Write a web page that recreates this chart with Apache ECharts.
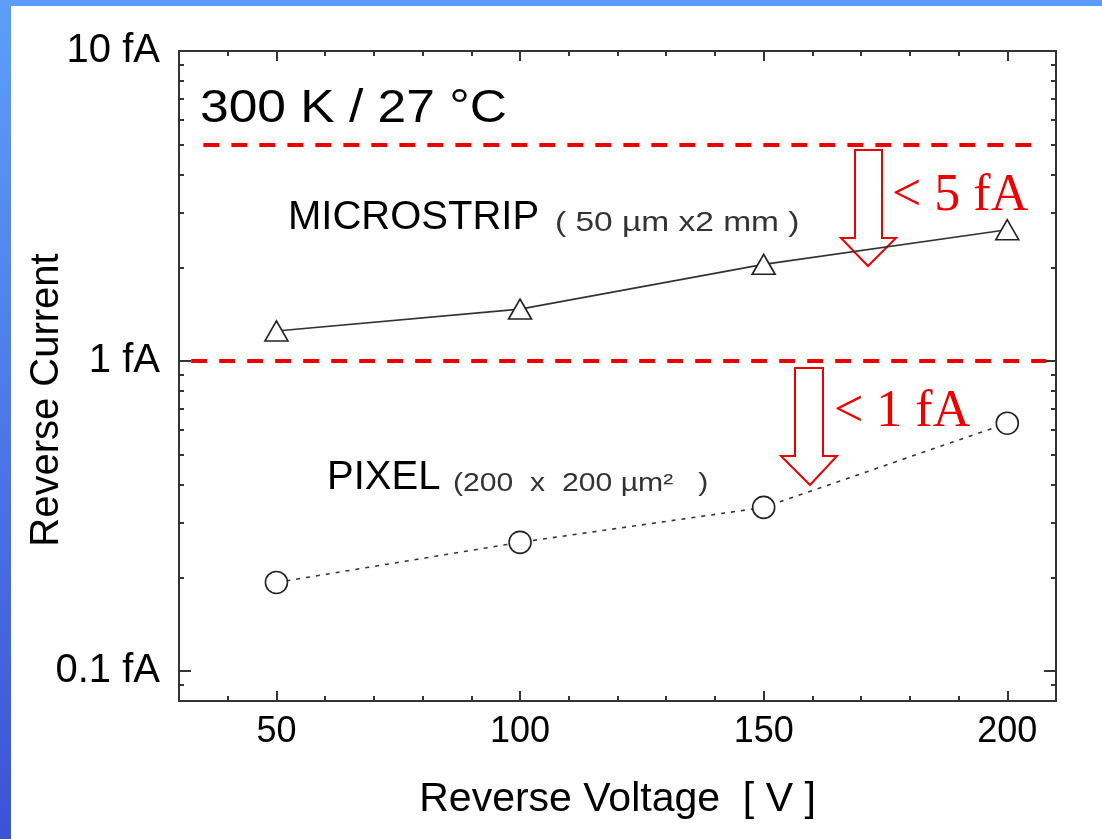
<!DOCTYPE html>
<html>
<head>
<meta charset="utf-8">
<title>Reverse Current vs Reverse Voltage</title>
<script src="https://cdn.jsdelivr.net/npm/echarts@6/dist/echarts.min.js"></script>
<style>
  html, body { margin: 0; padding: 0; background: #fff; }
  #chart { width: 1102px; height: 839px; }
</style>
</head>
<body>
<div id="chart"></div>
<script>
// Measured reverse current (fA) at each bias voltage (V)
const voltage = [50, 100, 150, 200];
const microstrip = [1.25, 1.47, 2.05, 2.65];
const pixel = [0.193, 0.26, 0.337, 0.63];

// Specification limits (fA) drawn as red dashed lines
const limits = [5, 1];

// Axis ticks
const xMajorTicks = [50, 100, 150, 200];
const yMajorTicks = [0.1, 1, 10];
const yMajorLabels = ['0.1 fA', '1 fA', '10 fA'];
const yMinorTicks = [0.09, 0.2, 0.3, 0.4, 0.5, 0.6, 0.7, 0.8, 0.9, 2, 3, 4, 5, 6, 7, 8, 9];

const SANS = '"Liberation Sans", Arial, Helvetica, sans-serif';
const SERIF = '"Liberation Serif", "Times New Roman", serif';
const INK = '#333';
const RED = '#ee0000';

const pairs = (xs, ys) => xs.map((x, i) => [x, ys[i]]);

function xAxis(position, major, withLabels) {
  const ax = {
    type: 'value', position: position, min: 30, max: 210,
    axisLine: { show: true, onZero: false, lineStyle: { color: INK, width: 2 } },
    splitLine: { show: false },
    axisTick: { show: true, inside: true, length: major ? 10 : 5, lineStyle: { color: INK, width: 2 } },
    axisLabel: { show: false }
  };
  if (major) {
    ax.axisTick.customValues = xMajorTicks;
    if (withLabels) {
      ax.axisLabel = {
        show: true, customValues: xMajorTicks, margin: 13,
        fontFamily: SANS, fontSize: 36, color: '#000'
      };
      ax.name = 'Reverse Voltage  [ V ]';
      ax.nameLocation = 'middle';
      ax.nameGap = 78;
      ax.nameMoveOverlap = false;
      ax.nameTextStyle = { fontFamily: SANS, fontSize: 41, color: '#000' };
    }
  } else {
    ax.interval = 10;
  }
  return ax;
}

function yAxis(position, major, withLabels) {
  const ax = {
    type: 'log', logBase: 10, position: position, min: 0.08, max: 10,
    axisLine: { show: true, onZero: false, lineStyle: { color: INK, width: 2 } },
    splitLine: { show: false },
    minorTick: { show: false },
    axisTick: {
      show: true, inside: true, length: major ? 12 : 5,
      customValues: major ? yMajorTicks : yMinorTicks,
      lineStyle: { color: INK, width: 2 }
    },
    axisLabel: { show: false }
  };
  if (withLabels) {
    ax.axisLabel = {
      show: true, customValues: yMajorTicks, margin: 19,
      fontFamily: SANS, fontSize: 40, color: '#000',
      formatter: v => yMajorLabels[yMajorTicks.findIndex(t => Math.abs(t - v) < 1e-9)]
    };
    ax.name = 'Reverse Current';
    ax.nameLocation = 'middle';
    ax.nameRotate = 90;
    ax.nameGap = 112;
    ax.nameMoveOverlap = false;
    ax.nameTextStyle = { fontFamily: SANS, fontSize: 40, color: '#000', padding: [0, 48, 0, 0] };
  }
  return ax;
}

const chart = echarts.init(document.getElementById('chart'), null, { renderer: 'canvas' });

const option = {
  animation: false,
  backgroundColor: '#ffffff',
  grid: { left: 179, top: 51, width: 877, height: 650, containLabel: false, outerBoundsMode: 'none' },
  xAxis: [
    xAxis('bottom', true, true),
    xAxis('bottom', false, false),
    xAxis('top', true, false),
    xAxis('top', false, false)
  ],
  yAxis: [
    yAxis('left', true, true),
    yAxis('left', false, false),
    yAxis('right', true, false),
    yAxis('right', false, false)
  ],
  series: [
    {
      name: 'MICROSTRIP',
      type: 'line',
      xAxisIndex: 0, yAxisIndex: 0,
      data: pairs(voltage, microstrip),
      symbol: 'triangle',
      symbolSize: [23, 20],
      itemStyle: { color: '#fff', borderColor: '#222', borderWidth: 1.6 },
      lineStyle: { color: INK, width: 1.6 },
      emphasis: { disabled: true },
      silent: true,
      z: 3,
      markLine: {
        silent: true,
        symbol: 'none',
        label: { show: false },
        lineStyle: { color: RED, width: 4, type: [16, 12] },
        data: [
          [{ coord: [35, limits[0]] }, { coord: [206, limits[0]] }],
          [{ coord: [32.5, limits[1]] }, { coord: [208, limits[1]] }]
        ]
      }
    },
    {
      name: 'PIXEL',
      type: 'line',
      xAxisIndex: 0, yAxisIndex: 0,
      data: pairs(voltage, pixel),
      symbol: 'circle',
      symbolSize: 22,
      itemStyle: { color: '#fff', borderColor: '#222', borderWidth: 1.6 },
      lineStyle: { color: INK, width: 1.6, type: [4, 6] },
      emphasis: { disabled: true },
      silent: true,
      z: 3
    }
  ],
  graphic: [
    // blue slide frame
    { type: 'rect', silent: true, shape: { x: 0, y: 0, width: 1102, height: 6 }, style: { fill: '#5C9CF8' } },
    {
      type: 'rect', silent: true, shape: { x: 0, y: 0, width: 11, height: 839 },
      style: {
        fill: {
          type: 'linear', x: 0, y: 0, x2: 0, y2: 1,
          colorStops: [{ offset: 0, color: '#5D9EFA' }, { offset: 1, color: '#3C52D7' }]
        }
      }
    },
    // temperature note
    {
      type: 'text', silent: true, x: 200, y: 109, scaleX: 1.12,
      style: { text: '300 K / 27 °C', font: '46px ' + SANS, fill: '#000', verticalAlign: 'middle', align: 'left' }
    },
    // series captions
    {
      type: 'text', silent: true, x: 288, y: 218,
      style: { text: 'MICROSTRIP', font: '40px ' + SANS, fill: '#000', verticalAlign: 'middle', align: 'left' }
    },
    {
      type: 'text', silent: true, x: 555, y: 224, scaleX: 1.24,
      style: { text: '( 50 µm x2 mm )', font: '27px ' + SANS, fill: '#333', verticalAlign: 'middle', align: 'left' }
    },
    {
      type: 'text', silent: true, x: 327, y: 478,
      style: { text: 'PIXEL', font: '40px ' + SANS, fill: '#000', verticalAlign: 'middle', align: 'left' }
    },
    {
      type: 'text', silent: true, x: 453, y: 484, scaleX: 1.16,
      style: { text: '(200  x  200 µm²   )', font: '26px ' + SANS, fill: '#333', verticalAlign: 'middle', align: 'left' }
    },
    // limit arrows and labels
    {
      type: 'polygon', silent: true,
      shape: { points: [[855, 150], [882, 150], [882, 238], [896, 238], [868, 266], [841, 238], [855, 238]] },
      style: { fill: 'none', stroke: RED, lineWidth: 2 }
    },
    {
      type: 'text', silent: true, x: 892, y: 196,
      style: { text: '< 5 fA', font: '52px ' + SERIF, fill: RED, verticalAlign: 'middle', align: 'left' }
    },
    {
      type: 'polygon', silent: true,
      shape: { points: [[795, 368], [823, 368], [823, 456], [837, 456], [810, 485], [781, 456], [795, 456]] },
      style: { fill: 'none', stroke: RED, lineWidth: 2 }
    },
    {
      type: 'text', silent: true, x: 834, y: 412,
      style: { text: '< 1 fA', font: '52px ' + SERIF, fill: RED, verticalAlign: 'middle', align: 'left' }
    }
  ]
};

chart.setOption(option);
</script>
</body>
</html>
